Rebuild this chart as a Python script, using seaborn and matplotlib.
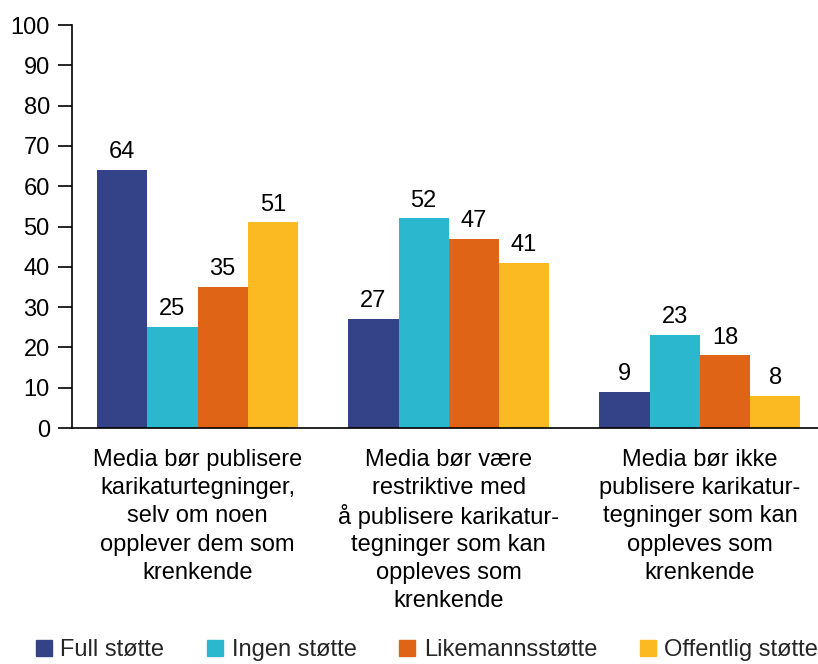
import numpy as np
import pandas as pd
import matplotlib
matplotlib.use("Agg")
import matplotlib.pyplot as plt
import seaborn as sns

# Data
categories = [
    "Media bør publisere\nkarikaturtegninger,\nselv om noen\nopplever dem som\nkrenkende",
    "Media bør være\nrestriktive med\nå publisere karikatur-\ntegninger som kan\noppleves som\nkrenkende",
    "Media bør ikke\npublisere karikatur-\ntegninger som kan\noppleves som\nkrenkende",
]
series = ["Full støtte", "Ingen støtte", "Likemannsstøtte", "Offentlig støtte"]
full_stotte = [64, 27, 9]
ingen_stotte = [25, 52, 23]
likemann = [35, 47, 18]
offentlig = [51, 41, 8]
colors = ["#344388", "#2BB8CF", "#DF6416", "#FBBA22"]

rows = []
for name, vals in zip(series, [full_stotte, ingen_stotte, likemann, offentlig]):
    for cat, v in zip(categories, vals):
        rows.append({"kategori": cat, "gruppe": name, "verdi": v})
df = pd.DataFrame(rows)

sns.set_style("white")
plt.rcParams["font.family"] = ["Liberation Sans", "DejaVu Sans"]

fig = plt.figure(figsize=(8.18, 6.64), dpi=100)
ax = fig.add_axes([0.088, 0.3554, 0.912, 0.6069])

sns.barplot(data=df, x="kategori", y="verdi", hue="gruppe", palette=colors,
            width=0.8, saturation=1, linewidth=0, ax=ax, legend=False)

for cont in ax.containers:
    ax.bar_label(cont, padding=5, fontsize=17, color="black")

ax.set_ylim(0, 100)
ax.set_xlim(-0.5, 2.47)
ax.set_yticks(np.arange(0, 101, 10))
ax.tick_params(axis="y", direction="out", length=10, width=1.2, labelsize=17,
               left=True, pad=6, color="black", labelcolor="black")
ax.tick_params(axis="x", length=0)
ax.set_xticklabels([])
ax.set_xlabel("")
ax.set_ylabel("")

# category labels line by line, so that "å" does not stretch the spacing
for i, cat in enumerate(categories):
    for j, line in enumerate(cat.split("\n")):
        ax.annotate(line, xy=(i, 0), xycoords=("data", "axes fraction"),
                    xytext=(0, -23 - 20.3 * j), textcoords="offset points",
                    ha="center", va="center", fontsize=17, color="black")

for s in ["top", "right"]:
    ax.spines[s].set_visible(False)
for s in ["left", "bottom"]:
    ax.spines[s].set_color("black")
    ax.spines[s].set_linewidth(1.2)

handles = [plt.Line2D([], [], marker="s", linestyle="", markersize=12,
                      markerfacecolor=c, markeredgecolor=c) for c in colors]
fig.legend(handles, series, loc="center left", bbox_to_anchor=(35 / 818, 14 / 664),
           ncol=4, frameon=False, fontsize=17, handletextpad=0.35,
           columnspacing=1.78, handlelength=0.72, borderpad=0, borderaxespad=0)

fig.savefig("out.png", dpi=100)
